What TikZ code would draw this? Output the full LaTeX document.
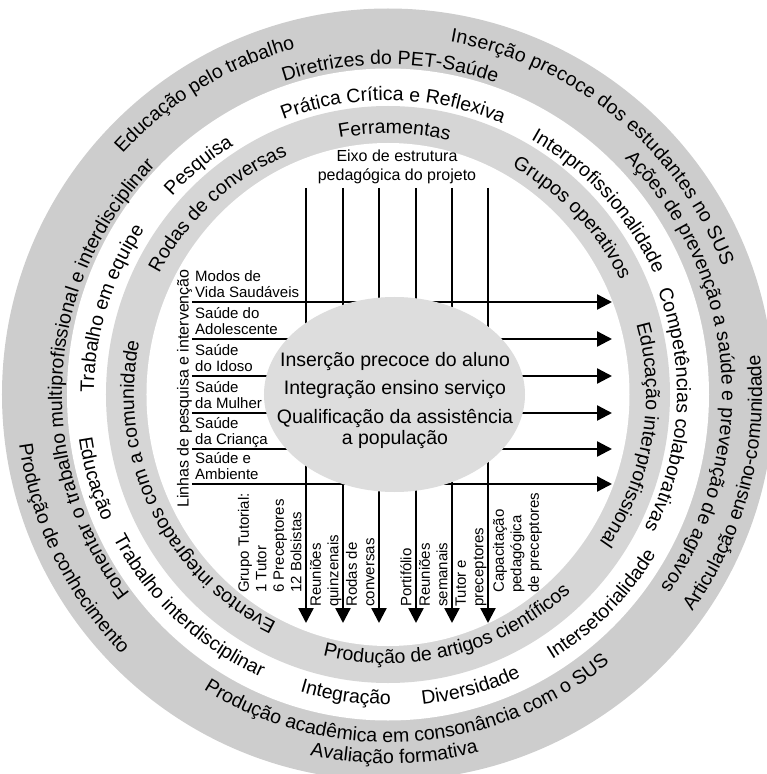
\documentclass[tikz,border=0pt]{standalone}
\usepackage{fontspec}
\setmainfont{Liberation Sans}
\usetikzlibrary{arrows.meta, decorations.text, shapes.geometric}

\definecolor{ringgray}{RGB}{205,205,205}
\definecolor{innergray}{RGB}{214,214,214}
\definecolor{coregray}{RGB}{221,221,221}

\newcommand{\ringfont}{\fontsize{19.5}{20}\selectfont}
\newcommand{\cwtext}[3]{\path[decorate, decoration={text along path, text align=center, text={|\ringfont|#3}}] ({#2+85}:#1) arc[start angle={#2+85}, end angle={#2-85}, radius=#1];}
\newcommand{\ccwtext}[3]{\path[decorate, decoration={text along path, text align=center, text={|\ringfont|#3}}] ({#2-85}:#1) arc[start angle={#2-85}, end angle={#2+85}, radius=#1];}
\newcommand{\cwfit}[4]{\path[decorate, decoration={text along path, text align=fit to path, text={|\ringfont|#4}}] (#2:#1) arc[start angle=#2, end angle=#3, radius=#1];}

\tikzset{
	flow/.style={line width=2.4pt, -{Triangle[length=15pt, width=15pt]}},
	lbl/.style={font=\fontsize{15}{16.5}\selectfont, align=left, inner sep=0pt, text depth=0pt, anchor=south west},
	vlbl/.style={lbl, font=\fontsize{15}{17.5}\selectfont, rotate=90}
}

\begin{document}
\begin{tikzpicture}[x=1pt, y=1pt]
	\useasboundingbox (-388,-379.5) rectangle (379,394.5);
	\fill[ringgray] (0,0) circle[radius=386];
	\fill[white] (0,0) ellipse[x radius=321, y radius=326];
	\fill[innergray] (0,0) ellipse[x radius=282, y radius=288.5];
	\fill[white] (0,0) ellipse[x radius=241.5, y radius=251.5];
	
	\coordinate (h1) at (-196,92.5);   \coordinate (h1e) at (224,92.5);
	\coordinate (h2) at (-196,55.5);   \coordinate (h2e) at (224,55.5);
	\coordinate (h3) at (-196,18.5);   \coordinate (h3e) at (224,18.5);
	\coordinate (h4) at (-196,-18.5);  \coordinate (h4e) at (224,-18.5);
	\coordinate (h5) at (-196,-54.5);  \coordinate (h5e) at (224,-54.5);
	\coordinate (h6) at (-196,-89.5);  \coordinate (h6e) at (224,-89.5);
	\coordinate (v1) at (-82,206.5);   \coordinate (v1e) at (-82,-228.5);
	\coordinate (v2) at (-45,206.5);   \coordinate (v2e) at (-45,-228.5);
	\coordinate (v3) at (-9,206.5);    \coordinate (v3e) at (-9,-228.5);
	\coordinate (v4) at (28,206.5);    \coordinate (v4e) at (28,-228.5);
	\coordinate (v5) at (64,206.5);    \coordinate (v5e) at (64,-228.5);
	\coordinate (v6) at (100,206.5);   \coordinate (v6e) at (100,-228.5);
	
	\path
	(h1) edge[flow] (h1e)
	(h2) edge[flow] (h2e)
	(h3) edge[flow] (h3e)
	(h4) edge[flow] (h4e)
	(h5) edge[flow] (h5e)
	(h6) edge[flow] (h6e)
	(v1) edge[flow] (v1e)
	(v2) edge[flow] (v2e)
	(v3) edge[flow] (v3e)
	(v4) edge[flow] (v4e)
	(v5) edge[flow] (v5e)
	(v6) edge[flow] (v6e);
	
	\node[ellipse, fill=coregray, minimum width=261pt, minimum height=195pt, inner sep=0pt] (core) at (6.5,0) {};
	\node[align=center, inner sep=0pt, font=\fontsize{19.5}{21}\selectfont] (coretxt) at (7,-5.7) {Inserção precoce do aluno\\[7.5pt]Integração ensino serviço\\[7.5pt]Qualificação da assistência\\a população};
	
	\node[font=\fontsize{16}{19}\selectfont, align=center, inner sep=0pt] (eixo) at (9,228) {Eixo de estrutura\\pedagógica do projeto};
	\node[font=\fontsize{16}{18}\selectfont, rotate=90, inner sep=0pt] (linhas) at (-203.5,6) {Linhas de pesquisa e intervenção};
	
	\node[lbl] (modos) at (-193,96.5) {Modos de\\Vida Saudáveis};
	\node[lbl] (adol) at (-193,59.5) {Saúde do\\Adolescente};
	\node[lbl] (idoso) at (-193,22.5) {Saúde\\do Idoso};
	\node[lbl] (mulher) at (-193,-14.5) {Saúde\\da Mulher};
	\node[lbl] (crianca) at (-193,-50.5) {Saúde\\da Criança};
	\node[lbl] (amb) at (-193,-85.5) {Saúde e\\Ambiente};
	
	\node[vlbl] (grupo) at (-86.5,-198.5) {Grupo Tutorial:\\1 Tutor\\6 Preceptores\\12 Bolsistas};
	\node[vlbl] (quinz) at (-49.5,-212.5) {Reuniões\\quinzenais};
	\node[vlbl] (rodas) at (-13.5,-212.5) {Rodas de\\conversas};
	\node[vlbl] (portif) at (23.5,-212.5) {Portifólio};
	\node[vlbl] (seman) at (59.5,-212.5) {Reuniões\\semanais};
	\node[vlbl] (tutor) at (95.5,-212.5) {Tutor e\\preceptores};
	\node[vlbl] (capac) at (151,-198.5) {Capacitação\\pedagógica\\de preceptores};
	
	\cwtext{358}{121.4}{Educação pelo trabalho}
	\cwfit{358}{80}{21}{Inserção precoce dos estudantes no SUS }
	\cwtext{330}{89.6}{Diretrizes do PET-Saúde}
	\cwtext{334}{4.8}{Ações de prevenção a saúde e prevenção de agravos}
	\cwtext{326}{176.6}{Fomentar o trabalho multiprofissional e interdisciplinar}
	\ccwtext{348}{-86.2}{Produção acadêmica em consonância com o SUS}
	\ccwtext{369}{-89}{Avaliação formativa}
	\ccwtext{372}{-154}{Produção de conhecimento}
	\ccwtext{374}{-14.7}{Articulação ensino-comunidade}
	
	\cwtext{294}{162.8}{Trabalho em equipe}
	\cwtext{293}{129.6}{Pesquisa}
	\cwtext{294}{89}{Prática Crítica e Reflexiva}
	\cwtext{292}{42.5}{Interprofissionalidade}
	\cwtext{289}{-3.2}{Competências colaborativas}
	\ccwtext{312}{-164}{Educação}
	\ccwtext{310}{-133.3}{Trabalho interdisciplinar}
	\ccwtext{310}{-98}{Integração}
	\ccwtext{312}{-74.2}{Diversidade}
	\ccwtext{312}{-44.5}{Intersetorialidade}
	
	\cwtext{259}{132.4}{Rodas de conversas}
	\cwtext{261}{88.6}{Ferramentas}
	\cwtext{259}{43.8}{Grupos operativos}
	\cwtext{258}{-9.6}{Educação interprofissional}
	\cwtext{254}{206}{Eventos integrados com a comunidade}
	\ccwtext{269}{-75.6}{Produção de artigos científicos}
\end{tikzpicture}
\end{document}
